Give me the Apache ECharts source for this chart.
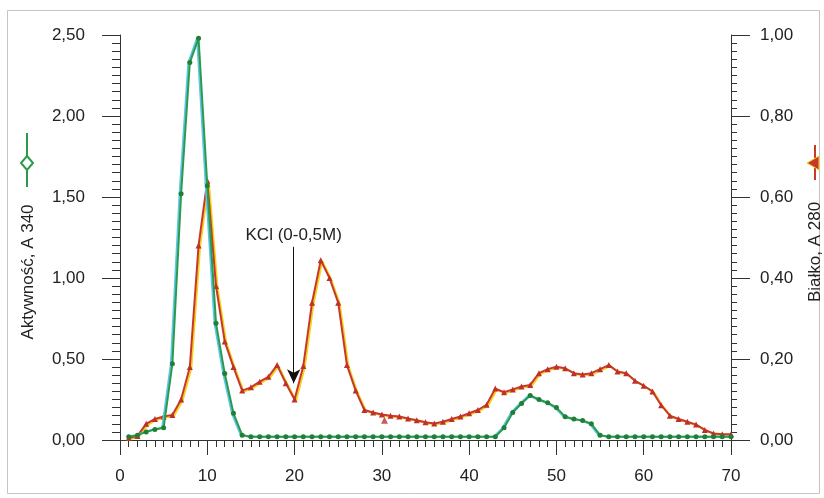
<!DOCTYPE html>
<html>
<head>
<meta charset="utf-8">
<script src="https://cdn.jsdelivr.net/npm/echarts@6/dist/echarts.min.js"></script>
<style>
html,body{margin:0;padding:0;background:#fff;}
#c{width:824px;height:498px;}
</style>
</head>
<body>
<div id="c"></div>
<script>
// Fraction numbers 1..70
const fractions = [1,2,3,4,5,6,7,8,9,10,11,12,13,14,15,16,17,18,19,20,21,22,23,24,25,26,27,28,29,30,31,32,33,34,35,36,37,38,39,40,41,42,43,44,45,46,47,48,49,50,51,52,53,54,55,56,57,58,59,60,61,62,63,64,65,66,67,68,69,70];
// Aktywność, A 340 (left axis)
const activity = [0.02,0.03,0.05,0.065,0.075,0.47,1.52,2.33,2.48,1.57,0.72,0.41,0.165,0.03,0.02,0.02,0.02,0.02,0.02,0.02,0.02,0.02,0.02,0.02,0.02,0.02,0.02,0.02,0.02,0.02,0.02,0.02,0.02,0.02,0.02,0.02,0.02,0.02,0.02,0.02,0.02,0.02,0.02,0.075,0.17,0.225,0.275,0.25,0.23,0.2,0.144,0.13,0.12,0.1,0.03,0.02,0.02,0.02,0.02,0.02,0.02,0.02,0.02,0.02,0.02,0.02,0.02,0.02,0.02,0.02];
// Białko, A 280 (right axis)
const protein = [0.005,0.01,0.04,0.052,0.058,0.062,0.10,0.18,0.48,0.64,0.38,0.243,0.18,0.122,0.13,0.144,0.156,0.185,0.14,0.10,0.183,0.339,0.444,0.40,0.339,0.185,0.122,0.074,0.068,0.063,0.06,0.058,0.053,0.049,0.044,0.041,0.045,0.052,0.058,0.066,0.074,0.087,0.127,0.118,0.125,0.132,0.136,0.165,0.175,0.181,0.177,0.165,0.162,0.165,0.175,0.185,0.169,0.165,0.146,0.134,0.12,0.086,0.06,0.052,0.045,0.038,0.025,0.016,0.014,0.014];
// Stray protein point
const proteinOutlier = [[30.3, 0.049]];
// Axis ticks
const xTicks = {min: 0, max: 70, interval: 10};
const leftTicks = {min: 0, max: 2.5, interval: 0.5};
const rightTicks = {min: 0, max: 1, interval: 0.2};
// Annotation
const kclLabel = 'KCl (0-0,5M)';
const kclFraction = 19.9;
const kclRange = [0.477, 0.14];
const leftName = 'Aktywność, A 340';
const rightName = 'Białko, A 280';

const fmt = v => v.toFixed(2).replace('.', ',');
const font = 'Liberation Sans, Arial, sans-serif';
const axisColor = '#333';
const fs = 17;

const chart = echarts.init(document.getElementById('c'), null, {renderer: 'canvas'});
chart.setOption({
  animation: false,
  backgroundColor: '#fff',
  grid: {left: 120, right: 93, top: 35, bottom: 58},
  xAxis: {
    type: 'value', min: xTicks.min, max: xTicks.max, interval: xTicks.interval,
    axisLine: {show: true, onZero: false, lineStyle: {color: axisColor, width: 1}},
    axisTick: {show: true, length: 15, lineStyle: {color: axisColor}},
    minorTick: {show: true, splitNumber: 10, length: 7, lineStyle: {color: axisColor}},
    axisLabel: {color: '#222', fontSize: fs, fontFamily: font, margin: 28},
    splitLine: {show: false}
  },
  yAxis: [{
    type: 'value', min: leftTicks.min, max: leftTicks.max, interval: leftTicks.interval,
    position: 'left',
    axisLine: {show: true, lineStyle: {color: axisColor, width: 1}},
    axisTick: {show: true, length: 18, lineStyle: {color: axisColor}},
    minorTick: {show: true, splitNumber: 10, length: 8, lineStyle: {color: axisColor}},
    axisLabel: {color: '#222', fontSize: fs, fontFamily: font, margin: 35, formatter: fmt},
    splitLine: {show: false}
  }, {
    type: 'value', min: rightTicks.min, max: rightTicks.max, interval: rightTicks.interval,
    position: 'right',
    axisLine: {show: true, lineStyle: {color: axisColor, width: 1}},
    axisTick: {show: true, length: 19, lineStyle: {color: axisColor}},
    minorTick: {show: true, splitNumber: 10, length: 6, lineStyle: {color: axisColor}},
    axisLabel: {color: '#222', fontSize: fs, fontFamily: font, margin: 29, formatter: fmt},
    splitLine: {show: false}
  }],
  series: [{
    name: 'Białko',
    type: 'line', yAxisIndex: 1,
    data: protein.map((v, i) => [fractions[i], v]),
    symbol: 'triangle', symbolSize: 6, showAllSymbol: true,
    lineStyle: {color: '#c8382a', width: 2, shadowColor: '#f2d21a', shadowOffsetX: 1.5, shadowOffsetY: 1, shadowBlur: 0},
    itemStyle: {color: '#c0302a', borderWidth: 0},
    z: 3,
    markLine: {
      silent: true,
      symbol: ['none', 'arrow'],
      symbolSize: [10, 14],
      lineStyle: {color: '#111', width: 1, type: 'solid'},
      label: {show: true, position: 'start', formatter: kclLabel, fontSize: fs, fontFamily: font, color: '#222', distance: 3},
      data: [[{coord: [kclFraction, kclRange[0]]}, {coord: [kclFraction, kclRange[1]]}]]
    }
  }, {
    name: 'Białko-outlier',
    type: 'scatter', yAxisIndex: 1,
    data: proteinOutlier,
    symbol: 'triangle', symbolSize: 7,
    itemStyle: {color: '#c0302a'},
    z: 3
  }, {
    name: 'Aktywność',
    type: 'line', yAxisIndex: 0,
    data: activity.map((v, i) => [fractions[i], v]),
    symbol: 'circle', symbolSize: 5, showAllSymbol: true,
    lineStyle: {color: '#2b9a4a', width: 2, shadowColor: '#5cc6e6', shadowOffsetX: -1.5, shadowOffsetY: 0, shadowBlur: 0},
    itemStyle: {color: '#1f7f34', borderWidth: 0},
    z: 4
  }],
  graphic: [
    {type: 'rect', shape: {x: 7.5, y: 10.5, width: 812, height: 483}, style: {fill: 'none', stroke: '#c4c4c4', lineWidth: 1}, z: -1},
    {type: 'line', shape: {x1: 27, y1: 133, x2: 27, y2: 187}, style: {stroke: '#2b9a4a', lineWidth: 2}},
    {type: 'polygon', shape: {points: [[27, 156], [33, 163], [27, 170], [21, 163]]}, style: {fill: '#fff', stroke: '#2b9a4a', lineWidth: 2}},
    {type: 'text', x: 28, y: 272, rotation: Math.PI / 2, style: {text: leftName, fontSize: fs, fontFamily: font, fill: '#222', align: 'center', verticalAlign: 'middle'}},
    {type: 'line', shape: {x1: 815, y1: 145, x2: 815, y2: 180}, style: {stroke: '#c8382a', lineWidth: 2}},
    {type: 'polygon', shape: {points: [[807, 163], [819, 156], [819, 170]]}, style: {fill: '#c8382a', stroke: '#f2d21a', lineWidth: 1}},
    {type: 'text', x: 815, y: 252, rotation: Math.PI / 2, style: {text: rightName, fontSize: fs, fontFamily: font, fill: '#222', align: 'center', verticalAlign: 'middle'}}
  ]
});
</script>
</body>
</html>
